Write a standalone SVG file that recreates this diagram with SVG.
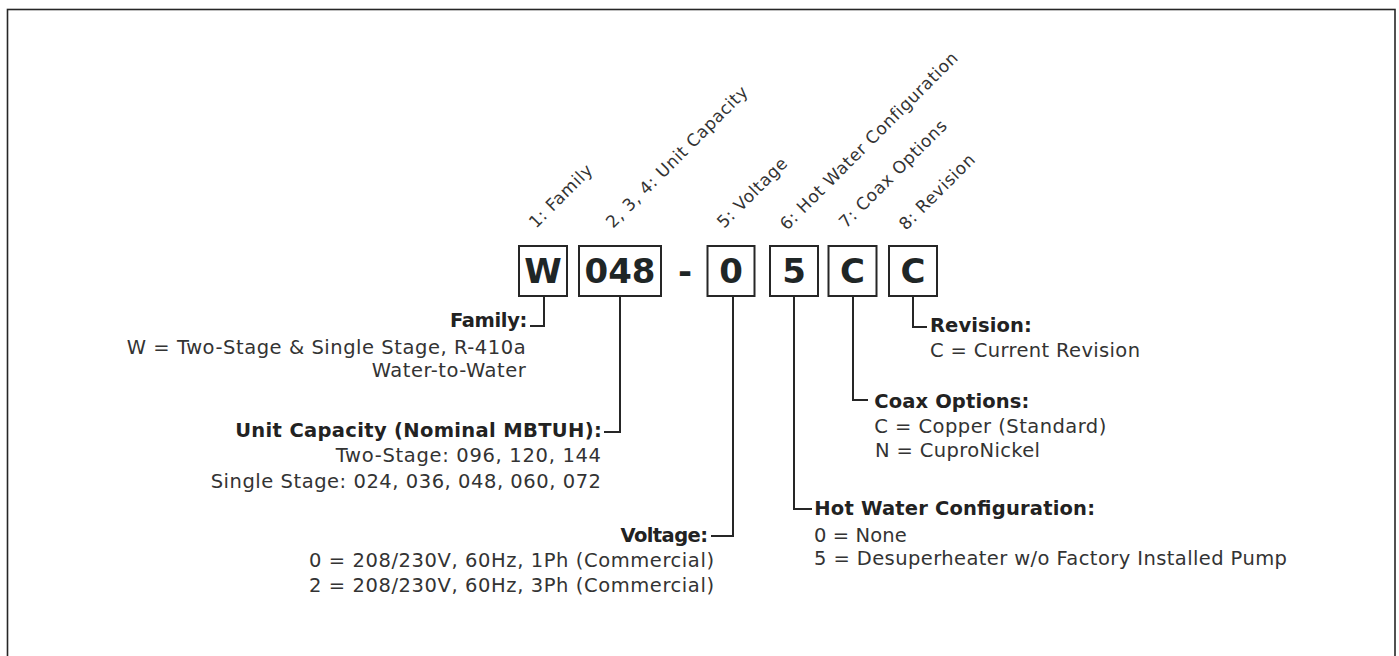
<svg xmlns="http://www.w3.org/2000/svg" width="1399" height="656" viewBox="0 0 1399 656">
<style>
text{font-family:"DejaVu Sans","Liberation Sans",sans-serif}
.b{font-weight:bold;font-size:19.5px;fill:#222}
.r{font-size:19.5px;fill:#333}
.lab{font-size:17px;fill:#333;letter-spacing:0.6px}
.big{font-weight:bold;font-size:34px;fill:#1f2626;text-anchor:middle}
.box{fill:#fff;stroke:#262626;stroke-width:2}
.con{fill:none;stroke:#262626;stroke-width:2}
</style>
<rect x="7.5" y="9.5" width="1387.5" height="700" fill="#fff" stroke="#262626" stroke-width="1.6"/>
<g id="labels">
<text class="lab" transform="translate(536,229) rotate(-45)">1: Family</text>
<text class="lab" transform="translate(613,229) rotate(-45)">2, 3, 4: Unit Capacity</text>
<text class="lab" transform="translate(724,229) rotate(-45)">5: Voltage</text>
<text class="lab" transform="translate(787,231) rotate(-45)">6: Hot Water Configuration</text>
<text class="lab" transform="translate(846,229) rotate(-45)">7: Coax Options</text>
<text class="lab" transform="translate(906,231) rotate(-45)">8: Revision</text>
</g>
<g id="connectors">
<path class="con" d="M544 297V326H530"/>
<path class="con" d="M620 297V432H604"/>
<path class="con" d="M733 297V536H711"/>
<path class="con" d="M794 297V509H812"/>
<path class="con" d="M853 297V400H868"/>
<path class="con" d="M913 297V327H927"/>
</g>
<g id="box-w"><rect class="box" x="519" y="246" width="48" height="50"/><text class="big" x="543" y="283">W</text></g>
<g id="box-048"><rect class="box" x="579" y="246" width="82" height="50"/><text class="big" x="620" y="283" textLength="71">048</text></g>
<g id="dash"><text class="big" x="685" y="283">-</text></g>
<g id="box-0"><rect class="box" x="707.5" y="246" width="47" height="50"/><text class="big" x="731" y="283">0</text></g>
<g id="box-5"><rect class="box" x="770" y="246" width="48" height="50"/><text class="big" x="794" y="283">5</text></g>
<g id="box-c1"><rect class="box" x="828.5" y="246" width="48" height="50"/><text class="big" x="852.5" y="283">C</text></g>
<g id="box-c2"><rect class="box" x="889" y="246" width="48" height="50"/><text class="big" x="913" y="283">C</text></g>
<g id="family" text-anchor="end">
<text class="b" x="527.3" y="327" textLength="77.3">Family:</text>
<text class="r" x="525.7" y="354" textLength="399">W = Two-Stage &amp; Single Stage, R-410a</text>
<text class="r" x="525.7" y="377" textLength="154">Water-to-Water</text>
</g>
<g id="capacity" text-anchor="end">
<text class="b" x="601.7" y="437" textLength="366.5">Unit Capacity (Nominal MBTUH):</text>
<text class="r" x="601" y="462" textLength="265.3">Two-Stage: 096, 120, 144</text>
<text class="r" x="601" y="488" textLength="390.3">Single Stage: 024, 036, 048, 060, 072</text>
</g>
<g id="voltage" text-anchor="end">
<text class="b" x="708" y="541.7" textLength="87.5">Voltage:</text>
<text class="r" x="714" y="567" textLength="405">0 = 208/230V, 60Hz, 1Ph (Commercial)</text>
<text class="r" x="714" y="592" textLength="405">2 = 208/230V, 60Hz, 3Ph (Commercial)</text>
</g>
<g id="revision">
<text class="b" x="930" y="332" textLength="101.7">Revision:</text>
<text class="r" x="930" y="357" textLength="210">C = Current Revision</text>
</g>
<g id="coax">
<text class="b" x="874.3" y="408.3" textLength="155">Coax Options:</text>
<text class="r" x="874.3" y="432.7" textLength="232">C = Copper (Standard)</text>
<text class="r" x="875" y="457" textLength="165">N = CuproNickel</text>
</g>
<g id="hotwater">
<text class="b" x="814.3" y="515" textLength="280.7">Hot Water Configuration:</text>
<text class="r" x="814" y="541.7" textLength="92.7">0 = None</text>
<text class="r" x="814" y="565" textLength="473">5 = Desuperheater w/o Factory Installed Pump</text>
</g>
</svg>
